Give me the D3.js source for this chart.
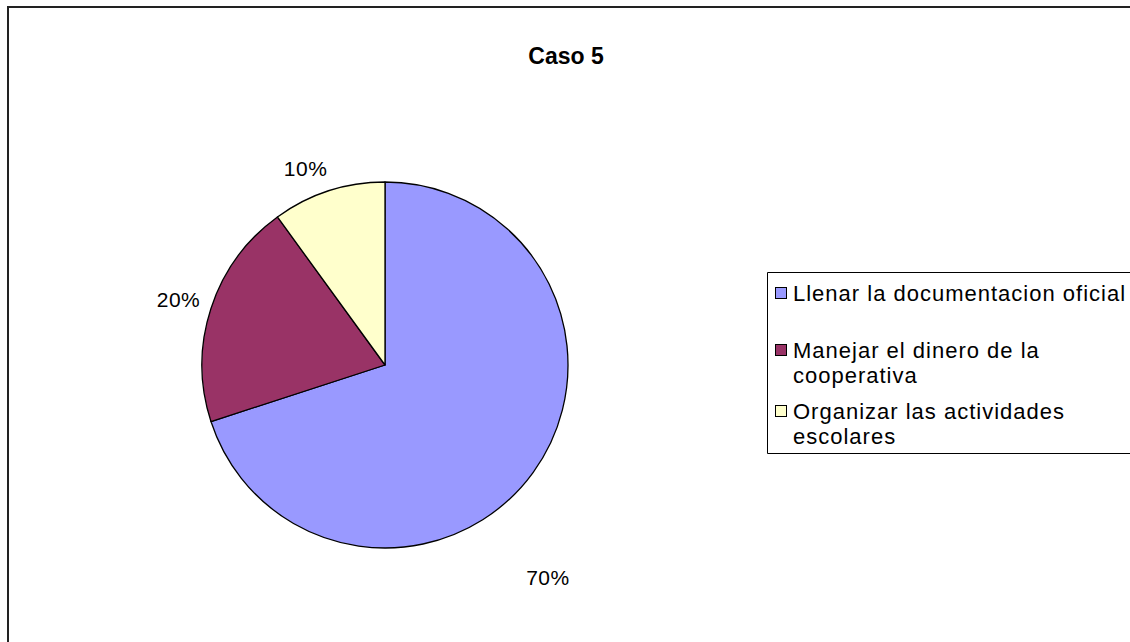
<!DOCTYPE html>
<html>
<head>
<meta charset="utf-8">
<script src="https://cdn.jsdelivr.net/npm/d3@7"></script>
<style>
  html, body { margin: 0; padding: 0; background: #fff; overflow: hidden; }
  svg { display: block; }
  text { font-family: "Liberation Sans", Arial, sans-serif; fill: #000; }
</style>
</head>
<body>
<svg id="chart" width="1130" height="642"></svg>
<script>
// Chart data
const title = "Caso 5";
const categories = [
  "Llenar la documentacion oficial",
  "Manejar el dinero de la cooperativa",
  "Organizar las actividades escolares"
];
const legendLines = [
  ["Llenar la documentacion oficial"],
  ["Manejar el dinero de la", "cooperativa"],
  ["Organizar las actividades", "escolares"]
];
const values = [70, 20, 10];
const colors = ["#9999FF", "#993366", "#FFFFCC"];
// nudges for the percentage labels (best-fit placement)
const labelNudge = [[-11, 86], [-2, 1], [-13, 8]];

const svg = d3.select("#chart");
const W = 1130, H = 642;

// outer chart frame: only top and left edges fall inside the page
svg.append("path")
  .attr("d", `M8,${H + 10} V7 H${W + 10}`)
  .attr("fill", "none")
  .attr("stroke", "#222").attr("stroke-width", 2);

svg.append("text")
  .attr("x", 566).attr("y", 64)
  .attr("text-anchor", "middle")
  .attr("font-weight", "bold")
  .attr("font-size", 23)
  .text(title);

const cx = 385, cy = 365, R = 183;
const pie = d3.pie().sort(null).value(d => d);
const arcs = pie(values);
const arc = d3.arc().innerRadius(0).outerRadius(R);
const labelArc = d3.arc().innerRadius(215).outerRadius(215);

const g = svg.append("g").attr("transform", `translate(${cx},${cy})`);
g.selectAll("path.slice")
  .data(arcs)
  .join("path")
  .attr("class", "slice")
  .attr("d", arc)
  .attr("fill", (d, i) => colors[i])
  .attr("stroke", "#000")
  .attr("stroke-width", 1.3)
  .attr("stroke-linejoin", "round");

const total = d3.sum(values);
g.selectAll("text.pct")
  .data(arcs)
  .join("text")
  .attr("class", "pct")
  .attr("transform", (d, i) => {
    const c = labelArc.centroid(d);
    return `translate(${c[0] + labelNudge[i][0]},${c[1] + labelNudge[i][1]})`;
  })
  .attr("text-anchor", "middle")
  .attr("dominant-baseline", "central")
  .attr("font-size", 21)
  .attr("letter-spacing", 0.5)
  .text(d => Math.round(d.data / total * 100) + "%");

// legend box (its right edge lies beyond the page)
const lx = 767.5, ly = 272.5, lh = 181;
svg.append("path")
  .attr("d", `M${W + 10},${ly} H${lx} V${ly + lh} H${W + 10}`)
  .attr("fill", "#fff")
  .attr("stroke", "#000").attr("stroke-width", 1);

const itemTop = [293, 350, 411];
const lineH = 25;
const leg = svg.append("g");
categories.forEach((c, i) => {
  leg.append("rect")
    .attr("x", 775.5).attr("y", itemTop[i] - 5.5)
    .attr("width", 11).attr("height", 11)
    .attr("fill", colors[i])
    .attr("stroke", "#000").attr("stroke-width", 1);
  const t = leg.append("text")
    .attr("x", 793).attr("y", itemTop[i] + 8)
    .attr("font-size", 22)
    .attr("letter-spacing", 1);
  legendLines[i].forEach((ln, j) => {
    t.append("tspan").attr("x", 793).attr("dy", j === 0 ? 0 : lineH).text(ln);
  });
});
</script>
</body>
</html>
